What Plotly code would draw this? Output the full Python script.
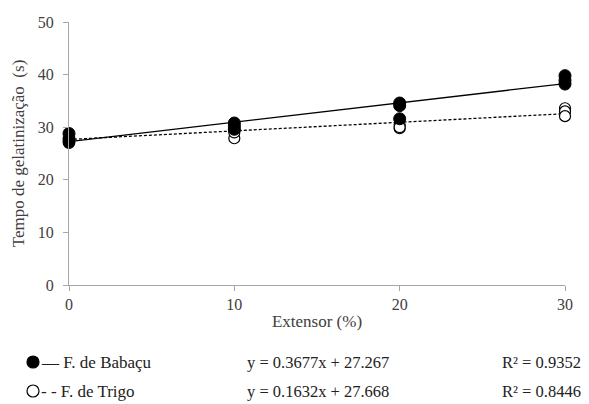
import plotly.graph_objects as go

# Data
extensor = [0, 0, 0, 10, 10, 10, 20, 20, 20, 30, 30, 30]
babacu = [28.8, 27.8, 27.2, 30.8, 30.2, 29.6, 34.6, 34.1, 31.6, 39.8, 38.9, 38.2]
trigo = [27.8, 27.3, 27.0, 29.4, 27.9, 29.0, 30.4, 29.8, 30.0, 33.6, 33.0, 32.1]

series_names = ["F. de Babaçu", "F. de Trigo"]
slopes = [0.3677, 0.1632]
intercepts = [27.267, 27.668]
r2 = [0.9352, 0.8446]

x_ticks = [0, 10, 20, 30]
y_ticks = [0, 10, 20, 30, 40, 50]

FONT = "Liberation Serif"
TXT = "#404040"
line_x = [0, 30]

fig = go.Figure()

# Trend lines
fig.add_trace(go.Scatter(
    x=line_x, y=[intercepts[1] + slopes[1] * v for v in line_x],
    mode="lines", line=dict(color="black", width=1.3, dash="3px,2px"),
    showlegend=False, hoverinfo="skip"))
fig.add_trace(go.Scatter(
    x=line_x, y=[intercepts[0] + slopes[0] * v for v in line_x],
    mode="lines", line=dict(color="black", width=1.3),
    showlegend=False, hoverinfo="skip"))

# Points
fig.add_trace(go.Scatter(
    x=extensor, y=trigo, mode="markers", name=series_names[1],
    marker=dict(symbol="circle", size=11, color="white",
                line=dict(color="black", width=1.2)),
    cliponaxis=False, showlegend=False))
fig.add_trace(go.Scatter(
    x=extensor, y=babacu, mode="markers", name=series_names[0],
    marker=dict(symbol="circle", size=12, color="black",
                line=dict(color="black", width=1)),
    cliponaxis=False, showlegend=False))

L, R, T, B = 69, 24, 22, 119
W, H = 589, 404
pw, ph = W - L - R, H - T - B


def px_to_paper(px, py):
    return (px - L) / pw, (H - B - py) / ph


annotations = []
shapes = []
rows = [362, 391]
labels = ["\u2014 " + series_names[0], "- - " + series_names[1]]
for i, py in enumerate(rows):
    xm, ym = px_to_paper(33, py)
    shapes.append(dict(
        type="circle", xref="paper", yref="paper",
        xsizemode="pixel", ysizemode="pixel",
        xanchor=xm, yanchor=ym, x0=-6, x1=6, y0=-6, y1=6,
        fillcolor="black" if i == 0 else "white",
        line=dict(color="black", width=1.2)))
    x1, y1 = px_to_paper(39, py)
    annotations.append(dict(
        x=x1, y=y1, xref="paper", yref="paper", text=labels[i],
        showarrow=False, xanchor="left", yanchor="middle",
        font=dict(family=FONT, size=17, color="#222")))
    x2, _ = px_to_paper(245, py)
    annotations.append(dict(
        x=x2, y=y1, xref="paper", yref="paper",
        text=f"y = {slopes[i]}x + {intercepts[i]}",
        showarrow=False, xanchor="left", yanchor="middle",
        font=dict(family=FONT, size=16.5, color="#222")))
    x3, _ = px_to_paper(500, py)
    annotations.append(dict(
        x=x3, y=y1, xref="paper", yref="paper",
        text=f"R\u00b2 = {r2[i]}",
        showarrow=False, xanchor="left", yanchor="middle",
        font=dict(family=FONT, size=16.5, color="#222")))

fig.update_layout(
    width=W, height=H,
    margin=dict(l=L, r=R, t=T, b=B),
    paper_bgcolor="white", plot_bgcolor="white",
    font=dict(family=FONT, size=16, color=TXT),
    shapes=shapes, annotations=annotations,
    showlegend=False,
)
fig.update_xaxes(
    range=[0, 30], tickvals=x_ticks, showgrid=False, zeroline=False,
    showline=True, linecolor="#a6a6a6", linewidth=1,
    ticks="outside", ticklen=5, tickcolor="#a6a6a6",
    tickfont=dict(family=FONT, size=16, color=TXT),
    title=dict(text="Extensor (%)", standoff=2, font=dict(family=FONT, size=17, color=TXT)),
)
fig.update_yaxes(
    range=[0, 50], tickvals=y_ticks, showgrid=False, zeroline=False,
    showline=True, linecolor="#a6a6a6", linewidth=1,
    ticks="outside", ticklen=5, tickcolor="#a6a6a6", ticklabelstandoff=6,
    tickfont=dict(family=FONT, size=16, color=TXT),
    title=dict(text="Tempo de gelatinização  (s)", standoff=8,
               font=dict(family=FONT, size=17, color=TXT)),
)

fig.write_html("out.html", config={"displayModeBar": False},
               post_script="document.body.style.margin='0';")
